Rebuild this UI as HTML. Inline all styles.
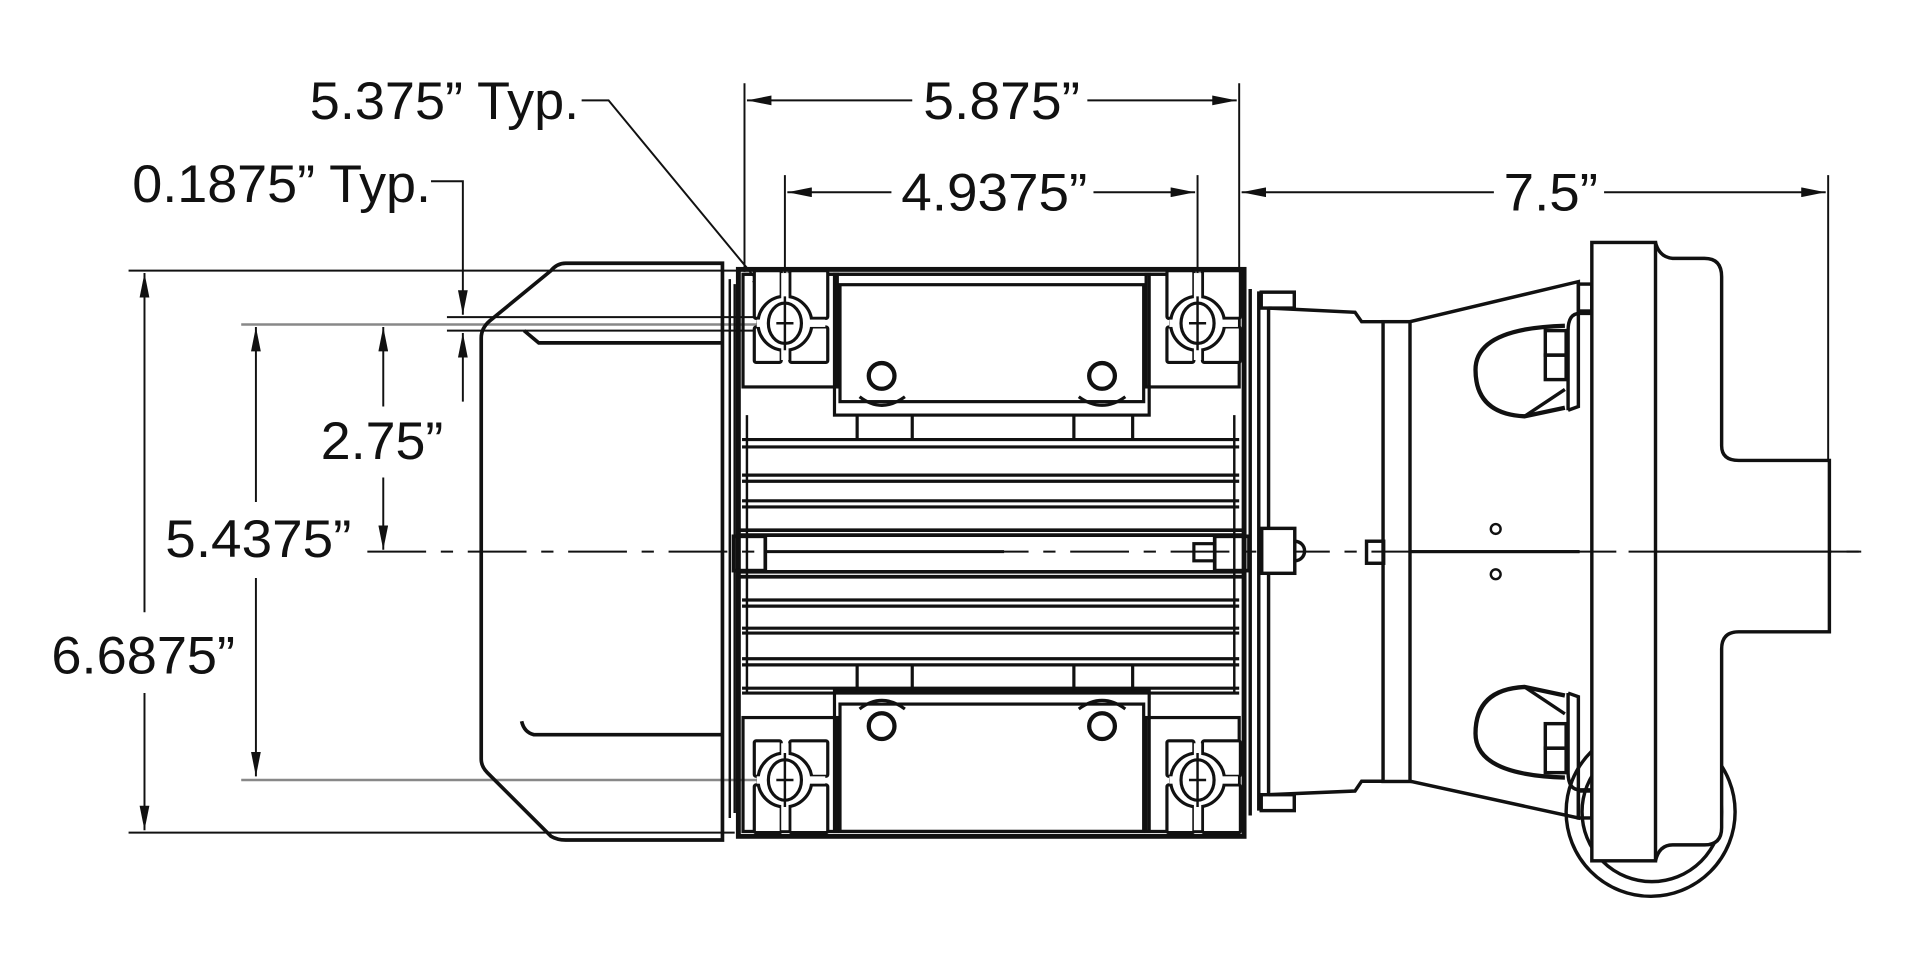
<!DOCTYPE html>
<html><head><meta charset="utf-8"><style>
html,body{margin:0;padding:0;background:#fff;}
svg{display:block;}
text{font-family:"Liberation Sans Narrow","Liberation Sans",sans-serif;font-size:43px;fill:#111;}
</style></head><body>
<svg width="1920" height="960" viewBox="0 0 1568 784" xmlns="http://www.w3.org/2000/svg">
<defs>
<marker id="a" viewBox="0 0 20 8" refX="20" refY="4" markerWidth="20" markerHeight="8" markerUnits="userSpaceOnUse" orient="auto"><path d="M0,0 L20,4 L0,8 Z" fill="#111"/></marker>
<g id="foot" stroke="#111" stroke-width="2.6" fill="#fff">
<rect x="-25" y="-32" width="22" height="29" rx="1.5"/>
<rect x="4" y="-32" width="31" height="29" rx="1.5"/>
<rect x="-25" y="4" width="22" height="39" rx="1.5"/>
<rect x="4" y="4" width="31" height="39" rx="1.5"/>
<circle cx="0" cy="0" r="22"/>
<rect x="-3" y="-30" width="6" height="71" fill="#fff" stroke="none"/>
<rect x="-23" y="-3" width="56" height="6" fill="#fff" stroke="none"/>
<ellipse cx="0" cy="0" rx="13.5" ry="16.5"/>
<path d="M0,-22 V22 M-7,0 H7" fill="none" stroke-width="2"/>
</g>
</defs>
<text x="253" y="97" textLength="220" lengthAdjust="spacingAndGlyphs">5.375” Typ.</text>
<text x="108" y="165" textLength="244" lengthAdjust="spacingAndGlyphs">0.1875” Typ.</text>
<text x="754" y="97" textLength="128" lengthAdjust="spacingAndGlyphs">5.875”</text>
<text x="736" y="172" textLength="152" lengthAdjust="spacingAndGlyphs">4.9375”</text>
<text x="1228" y="172" textLength="77" lengthAdjust="spacingAndGlyphs">7.5”</text>
<text x="262" y="375" textLength="100" lengthAdjust="spacingAndGlyphs">2.75”</text>
<text x="135" y="455" textLength="152" lengthAdjust="spacingAndGlyphs">5.4375”</text>
<text x="42" y="550" textLength="150" lengthAdjust="spacingAndGlyphs">6.6875”</text>

<g fill="none" stroke="#111" stroke-width="1.6">
<path d="M608,68 V222 M1012,68 V222 M641,143 V250 M978,143 V250 M1493,143 V380"/>
<path d="M745,82 H610" marker-end="url(#a)"/><path d="M888,82 H1010" marker-end="url(#a)"/>
<path d="M728,157 H643" marker-end="url(#a)"/><path d="M893,157 H976" marker-end="url(#a)"/>
<path d="M1220,157 H1014" marker-end="url(#a)"/><path d="M1310,157 H1491" marker-end="url(#a)"/>
<path d="M475,82 H497 L630,243" marker-end="url(#a)"/>
<path d="M352,148 H378 V257" marker-end="url(#a)"/>
<path d="M378,328 V272" marker-end="url(#a)"/>
<path d="M365,259 H625 M365,270 H625"/>
<path d="M105,221 H605 M105,680 H600"/>
<path d="M118,500 V223" marker-end="url(#a)"/><path d="M118,566 V678" marker-end="url(#a)"/>
<path d="M209,410 V267" marker-end="url(#a)"/><path d="M209,472 V634" marker-end="url(#a)"/>
<path d="M313,332 V267" marker-end="url(#a)"/><path d="M313,390 V449" marker-end="url(#a)"/>
</g>
<path d="M197,265 H625 M197,637 H625" stroke="#888" stroke-width="2" fill="none"/>

<g fill="none" stroke="#111" stroke-width="3">
<path d="M590,215 H462 Q455,215 450,221 L400,262 Q393,268 393,276 V620 Q393,626 398,631 L450,683 Q455,686 462,686 H590 Z"/>
<path d="M428,270 L440,280 H590 M426,589 Q428,598 436,600 H590"/>
<path d="M596,228 V668 M600,232 V664" stroke-width="2"/>
</g>

<g fill="none" stroke="#111" stroke-width="2.6">
<rect x="603" y="220" width="413" height="463" stroke-width="4"/>
<path d="M610,339 V565 M1008,339 V565" stroke-width="2"/>
<path d="M607,224 H1012"/>
<rect x="681.5" y="224" width="257" height="115"/>
<rect x="686" y="232.5" width="248" height="95.5"/>
<path d="M700,339 V359 M745,339 V359 M877,339 V359 M925,339 V359"/>
<path d="M702,324 Q720,338 739,324 M881,324 Q900,338 919,324" stroke-width="2.6"/>
<circle cx="720" cy="307" r="10.5" stroke-width="3.5"/>
<circle cx="900" cy="307" r="10.5" stroke-width="3.5"/>
<rect x="606.8" y="224" width="77" height="92"/>
<rect x="936" y="224" width="76" height="92"/>
<rect x="681.5" y="564" width="257" height="115"/>
<rect x="686" y="575" width="248" height="104"/>
<path d="M700,544 V564 M745,544 V564 M877,544 V564 M925,544 V564"/>
<path d="M702,579 Q720,565 739,579 M881,579 Q900,565 919,579"/>
<circle cx="720" cy="593" r="10.5" stroke-width="3.5"/>
<circle cx="900" cy="593" r="10.5" stroke-width="3.5"/>
<rect x="606.8" y="586" width="77" height="93"/>
<rect x="936" y="586" width="76" height="93"/>
<path d="M606,359 H1012 M606,365 H1012 M606,388 H1012 M606,393 H1012 M606,409 H1012 M606,414 H1012"/>
<path d="M603,433 H1016 M603,437 H1016" stroke-width="3"/>
<path d="M603,467 H1016 M603,471 H1016" stroke-width="3"/>
<path d="M606,490 H1012 M606,495 H1012 M606,513 H1012 M606,517 H1012 M606,538 H1012 M606,543 H1012 M606,562 H1012 M606,566 H1012"/>
<rect x="599" y="438" width="26" height="28" stroke-width="3"/>
<rect x="992" y="438" width="28" height="28" stroke-width="3"/>
<rect x="975" y="444" width="17" height="14"/>
</g>
<g transform="translate(641,264) scale(1,-1)"><use href="#foot"/></g>
<g transform="translate(978,264) scale(1,-1)"><use href="#foot"/></g>
<use href="#foot" x="641" y="637"/>
<use href="#foot" x="978" y="637"/>

<path d="M300,450.5 H1520" stroke="#111" stroke-width="1.6" stroke-dasharray="48,12,10,12" fill="none"/>
<path d="M625,450.5 H820 M1152,450.5 H1290" stroke="#111" stroke-width="2.5" fill="none"/>

<g fill="none" stroke="#111" stroke-width="2.8">
<path d="M1021,236 V666 M1028,238 V662 M1036,250 V651"/>
<rect x="1030" y="238.6" width="27" height="13" fill="#fff"/>
<rect x="1030" y="649" width="27" height="13" fill="#fff"/>
<path d="M1036,251.6 L1106.6,255 L1112,262.7 H1129.5 M1036,649 L1106.6,646 L1112,638 H1129.5"/>
<rect x="1129.5" y="262.7" width="22" height="375.5"/>
<path d="M1151.5,262.7 L1289,230 V332 L1280.6,335 M1151.5,638 L1289,668 V569 L1280.6,566"/>
<path d="M1280.6,335 V270 Q1280.6,256 1290,256 H1300 M1280.6,566 V631 Q1280.6,645 1290,645 H1300"/>
<rect x="1289" y="232" width="11" height="22"/>
<rect x="1289" y="646" width="11" height="22"/>
<path d="M1278,266 Q1205,268 1205,302 Q1205,338 1245,340 L1278,333" stroke-width="3.5"/>
<path d="M1245,340 L1278,318"/>
<rect x="1262" y="270" width="17" height="20"/><rect x="1262" y="290" width="17" height="20"/>
<path d="M1278,635 Q1205,633 1205,599 Q1205,563 1245,561 L1278,568" stroke-width="3.5"/>
<path d="M1245,561 L1278,583"/>
<rect x="1262" y="591" width="17" height="20"/><rect x="1262" y="611" width="17" height="20"/>
<rect x="1030.4" y="431.5" width="27" height="36.7" fill="#fff"/>
<path d="M1057.4,442 A8,8 0 0 1 1057.4,458"/>
<rect x="1116" y="442" width="14" height="18"/>
<circle cx="1221.5" cy="432" r="4" stroke-width="2"/>
<circle cx="1221.5" cy="469" r="4" stroke-width="2"/>
<circle cx="1348" cy="663" r="69"/>
<circle cx="1349" cy="663" r="57"/>
<path d="M1352,198 Q1355,210 1366,211 H1392 Q1406,211 1406,226 V364 Q1406,376 1420,376 H1494 V516 H1420 Q1406,516 1406,530 V676 Q1406,690 1392,690 H1366 Q1355,690 1352,703" fill="#fff"/>
<rect x="1300" y="198" width="52" height="505" fill="#fff"/>
<path d="M1152,450.5 H1290" stroke-width="2.5"/>
</g>
<path d="M1300,450.5 H1520" stroke="#111" stroke-width="1.6" stroke-dasharray="20,10,500" fill="none"/>
<path d="M1352,450.5 H1494" stroke="#111" stroke-width="1.6" fill="none"/>
</svg>
</body></html>
